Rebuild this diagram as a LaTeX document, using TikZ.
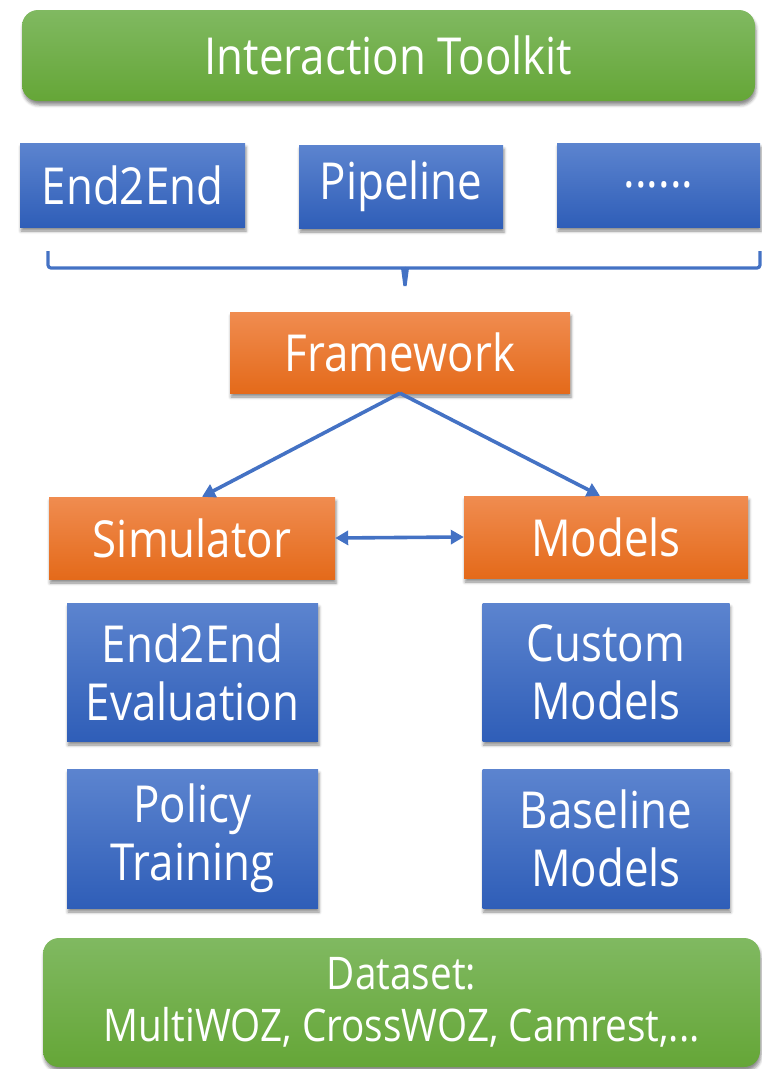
\documentclass[tikz,border=0pt]{standalone}
\usepackage{fontspec}
\setmainfont{Open Sans}[FakeStretch=0.86]
\usetikzlibrary{shadows.blur,arrows.meta}
\definecolor{grnT}{HTML}{80B961}
\definecolor{grnB}{HTML}{65A637}
\definecolor{bluT}{HTML}{5C84CF}
\definecolor{bluB}{HTML}{2F5EB8}
\definecolor{orgT}{HTML}{F08C50}
\definecolor{orgB}{HTML}{E46A1A}
\definecolor{link}{HTML}{4472C4}
\tikzset{
  box/.style={rectangle, inner sep=0pt, text=white, align=center,
    font=\fontsize{51}{58}\selectfont,
    blur shadow={shadow xshift=1pt, shadow yshift=-4pt, shadow blur radius=3pt, shadow opacity=45}},
  greenbox/.style={box, rounded corners=16pt, top color=grnT, bottom color=grnB},
  bluebox/.style={box, top color=bluT, bottom color=bluB},
  orangebox/.style={box, top color=orgT, bottom color=orgB},
  conn/.style={draw=link, line width=3.6pt, -{Triangle[length=13pt,width=14pt]}},
  bracket/.style={draw=link, line width=3.2pt, rounded corners=3pt},
}
\begin{document}
\begin{tikzpicture}[x=1pt,y=1pt]
\useasboundingbox (0,0) rectangle (762,-1069);

% top layer
\node[greenbox, minimum width=733pt, minimum height=91pt] (tk) at (388.5,-55.5) {Interaction Toolkit};
\node[bluebox, minimum width=225pt, minimum height=84pt] (e2e) at (132.5,-185) {End2End};
\node[bluebox, minimum width=204pt, minimum height=83pt] (pipe) at (401,-186.5) {Pipeline};
\node[bluebox, minimum width=203pt, minimum height=84pt] (more) at (658.5,-185) {......};

% bracket grouping the interaction modes
\coordinate (bl) at (48,-251);
\coordinate (br) at (760,-251);
\coordinate (bm) at (405,-268);
\coordinate (btip) at (405,-286);
\draw[bracket] (bl) |- (bm);
\draw[bracket] (br) |- (bm);
\fill[link] ([xshift=-4pt]bm) -- ([xshift=4pt]bm) -- ([xshift=1.6pt]btip) -- ([xshift=-1.6pt]btip) -- cycle;

% framework and its parts
\node[orangebox, minimum width=340pt, minimum height=81pt] (fw) at (400,-352.5) {Framework};
\node[orangebox, minimum width=286pt, minimum height=82pt] (sim) at (192,-538) {Simulator};
\node[orangebox, minimum width=284pt, minimum height=82pt] (mod) at (606,-537) {Models};

\draw[conn] (fw.south) -- ([xshift=10pt]sim.north);
\draw[conn] (fw.south) -- ([xshift=-6pt]mod.north);
\draw[conn, {Triangle[length=13pt,width=14pt]}-{Triangle[length=13pt,width=14pt]}] (sim.east) -- (mod.west);

% components
\node[bluebox, minimum width=251pt, minimum height=138pt] (eval) at (192.5,-672) {End2End\\Evaluation};
\node[bluebox, minimum width=247pt, minimum height=138pt] (cust) at (606,-672) {Custom\\Models};
\node[bluebox, minimum width=251pt, minimum height=139pt] (pol) at (192.5,-838.5) {Policy\\Training};
\node[bluebox, minimum width=247pt, minimum height=139pt] (base) at (606,-838.5) {Baseline\\Models};

% data layer
\node[greenbox, minimum width=717pt, minimum height=129pt, font=\fontsize{45}{52}\selectfont] (data) at (401.5,-1002.5) {Dataset:\\MultiWOZ, CrossWOZ, Camrest,...};
\end{tikzpicture}
\end{document}
